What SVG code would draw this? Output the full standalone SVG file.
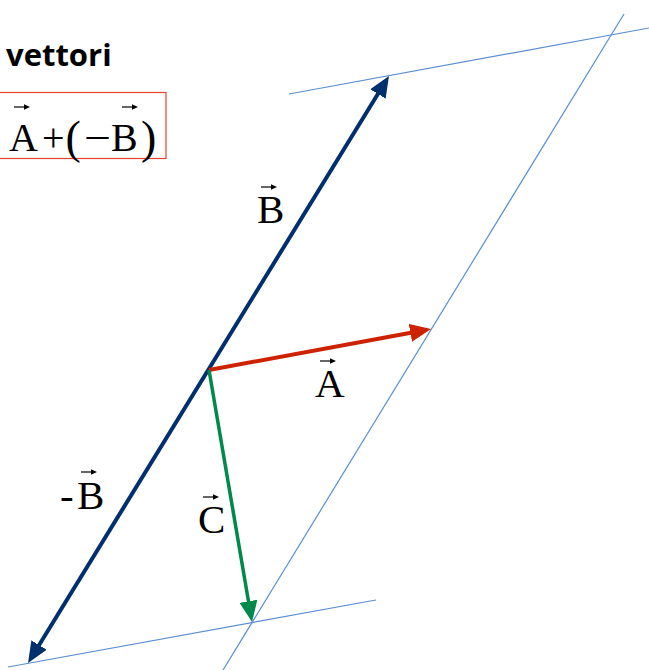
<svg xmlns="http://www.w3.org/2000/svg" xmlns:xlink="http://www.w3.org/1999/xlink" width="649" height="670" viewBox="0 0 649 670">
<style>
.thin{stroke:#5b8fd0;stroke-width:1.2;fill:none}
.lbl{font-family:"Liberation Serif","Times New Roman",serif;font-size:41px;fill:#000}
.box{font-family:"Liberation Serif","Times New Roman",serif;font-size:40px;fill:#000}
.par{font-family:"Liberation Serif","Times New Roman",serif;font-size:46px;fill:#000}
.title{font-family:"Open Sans","Liberation Sans",sans-serif;font-weight:bold;font-size:31px;fill:#000}
</style>
<defs>
<marker id="hBlue" markerUnits="userSpaceOnUse" markerWidth="21" markerHeight="18" viewBox="0 0 21 18" refX="6" refY="9" orient="auto-start-reverse"><path d="M0,0 L21,9 L0,18 z" fill="#002f6e"/></marker>
<marker id="hRed" markerUnits="userSpaceOnUse" markerWidth="21" markerHeight="18" viewBox="0 0 21 18" refX="6" refY="9" orient="auto"><path d="M0,0 L21,9 L0,18 z" fill="#cc2200"/></marker>
<marker id="hGreen" markerUnits="userSpaceOnUse" markerWidth="21" markerHeight="18" viewBox="0 0 21 18" refX="6" refY="9" orient="auto"><path d="M0,0 L21,9 L0,18 z" fill="#00894a"/></marker>
<g id="vec"><path d="M0,0 H12" stroke="#000" stroke-width="1.2"/><path d="M10,-2.8 L16,0 L10,2.8 z" fill="#000"/></g>
</defs>

<g id="guides">
<line class="thin" x1="289" y1="94" x2="649" y2="28"/>
<line class="thin" x1="624" y1="14" x2="223" y2="670"/>
<line class="thin" x1="8" y1="667" x2="376" y2="600"/>
</g>

<g id="connectors">
<line x1="35.9" y1="650.2" x2="381.1" y2="88.8" stroke="#002f6e" stroke-width="4" marker-start="url(#hBlue)" marker-end="url(#hBlue)"/>
<line x1="209" y1="370" x2="416.3" y2="331.7" stroke="#cc2200" stroke-width="4" marker-end="url(#hRed)"/>
<line x1="209" y1="370" x2="249.5" y2="607.2" stroke="#00894a" stroke-width="3.5" marker-end="url(#hGreen)"/>
</g>

<g id="title">
<text class="title" x="6" y="66">vettori</text>
</g>

<g id="formula">
<rect x="-1" y="92.5" width="167" height="66" fill="none" stroke="#e8402a" stroke-width="1.2"/>
<text class="box" x="9" y="151">A</text>
<text class="box" x="42" y="151">+</text>
<text class="par" x="65.5" y="153">(</text>
<text class="box" x="84" y="151" textLength="27" lengthAdjust="spacingAndGlyphs">−</text>
<text class="box" x="111" y="151">B</text>
<text class="par" x="141" y="153">)</text>
<use xlink:href="#vec" x="14" y="107"/>
<use xlink:href="#vec" x="122" y="107"/>
</g>

<g id="labelB">
<text class="lbl" x="257" y="223">B</text>
<use xlink:href="#vec" x="261" y="187"/>
</g>
<g id="labelA">
<text class="lbl" x="315" y="397">A</text>
<use xlink:href="#vec" x="320" y="361"/>
</g>
<g id="labelMinusB">
<text class="lbl" x="60" y="509">-</text>
<text class="lbl" x="77" y="509">B</text>
<use xlink:href="#vec" x="81" y="472"/>
</g>
<g id="labelC">
<text class="lbl" x="198" y="533">C</text>
<use xlink:href="#vec" x="203" y="497"/>
</g>
</svg>
